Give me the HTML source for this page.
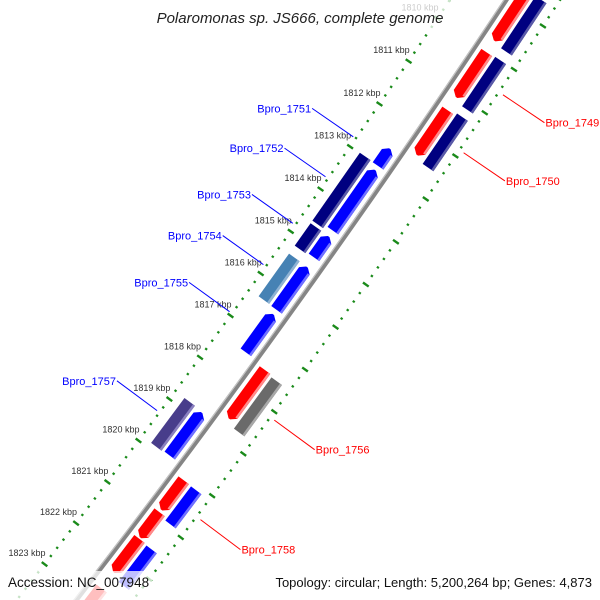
<!DOCTYPE html>
<html><head><meta charset="utf-8"><style>
html,body{margin:0;padding:0;background:#fff;overflow:hidden;}
svg{display:block;font-family:"Liberation Sans",sans-serif;}
</style></head><body>
<svg id="map" width="600" height="600" viewBox="0 0 600 600" xmlns="http://www.w3.org/2000/svg" overflow="hidden">
<g id="rings"></g>
<g id="backbone"></g>
<g id="features"></g>
<g id="labels"></g>
<rect x="150" y="0" width="300" height="32" fill="#fff" opacity="0.75"/>
<text x="300" y="23" text-anchor="middle" font-size="15" font-style="italic" fill="#222">Polaromonas sp. JS666, complete genome</text>
<rect x="0" y="571" width="152" height="29" fill="#fff" opacity="0.75"/>
<rect x="255" y="571" width="345" height="29" fill="#fff" opacity="0.75"/>
<text x="8" y="587" font-size="13.5" fill="#111">Accession: NC_007948</text>
<text x="592" y="587" text-anchor="end" font-size="13" fill="#111">Topology: circular; Length: 5,200,264 bp; Genes: 4,873</text>
</svg>
<script>
// ---- data ----
const majorTicks = [1809,1810,1811,1812,1813,1814,1815,1816,1817,1818,1819,1820,1821,1822,1823];
const tickLabels = ["1809 kbp","1810 kbp","1811 kbp","1812 kbp","1813 kbp","1814 kbp","1815 kbp","1816 kbp","1817 kbp","1818 kbp","1819 kbp","1820 kbp","1821 kbp","1822 kbp","1823 kbp"];
const featStart = [1812.6,1813.1,1814.66,1815.38,1816.5,1818.84, 1812.99,1814.65,1815.37,1818.81, 1808.6,1810.02,1811.36,1817.46,1820.09,1820.86,1821.5,1822.7,1823.65, 1808.6,1810.0,1811.31,1817.5,1820.1,1821.52];
const featEnd   = [1813.0,1814.52,1815.15,1816.39,1817.4,1819.87, 1814.59,1815.18,1816.38,1819.89, 1809.75,1811.06,1812.4,1818.62,1820.8,1821.47,1822.31,1823.6,1824.5, 1809.8,1811.14,1812.48,1818.72,1820.92,1822.4];
const featLane  = [-1,-1,-1,-1,-1,-1, -2,-2,-2,-2, 1,1,1,1,1,1,1,1,1, 2,2,2,2,2,2];
const featDir   = [-1,-1,-1,-1,-1,-1, 0,0,0,0, 1,1,1,1,1,1,1,1,1, 0,0,0,0,0,0];
const featColor = ["blue","blue","blue","blue","blue","blue","navy","navy","steel","purple","red","red","red","red","red","red","red","red","red","navy","navy","navy","gray","blue","blue"];
const labelNames = ["Bpro_1751","Bpro_1752","Bpro_1753","Bpro_1754","Bpro_1755","Bpro_1757","Bpro_1749","Bpro_1750","Bpro_1756","Bpro_1758"];
const labelKbp   = [1812.81,1813.75,1814.85,1815.83,1816.95,1819.32,1810.52,1811.86,1818.13,1820.5];
const labelSide  = [-1,-1,-1,-1,-1,-1,1,1,1,1];

// ---- geometry ----
const NS="http://www.w3.org/2000/svg";
const R=10000, nx=0.813, ny=0.582, Ox=297.7, Oy=300, k0=1816.0, pxPerKbp=52;
const Cx=Ox-R*nx, Cy=Oy-R*ny, phi0=Math.atan2(ny,nx);
function P(k,v){const f=phi0+(k-k0)*pxPerKbp/R, r=R+v;return [Cx+r*Math.cos(f),Cy+r*Math.sin(f)];}
function pts(a){return a.map(p=>p[0].toFixed(2)+","+p[1].toFixed(2)).join(" ");}
const laneV={"-2":-29,"-1":-13,"1":13,"2":29}, W=13, head=0.09;
const pal={red:["#ff0000","#ff8a8a"],blue:["#0000ff","#7070ff"],navy:["#000080","#5a5aa8"],steel:["#4682b4","#8fb3d4"],purple:["#483d8b","#8a80c0"],gray:["#6a6a6a","#a8a8a8"]};
const ringV=[-47,45];
const ringFrom=1807, ringTo=1825;

const gR=document.getElementById('rings');
ringV.forEach((rv,ri)=>{
  for(let t=ringFrom*5;t<=ringTo*5;t++){
    if(t%5===0) continue;
    const k=t/5;
    const a=P(k,rv-1.2),b=P(k,rv+1.2);
    const l=document.createElementNS(NS,'line');
    
    
    l.setAttribute('x1',a[0]);l.setAttribute('y1',a[1]);l.setAttribute('x2',b[0]);l.setAttribute('y2',b[1]);
    l.setAttribute('stroke','#1a8a1a');l.setAttribute('stroke-width','2.2');
    gR.appendChild(l);
  }
  majorTicks.forEach((k,i)=>{
    const a=P(k,rv-3.5),b=P(k,rv+3.5);
    const l=document.createElementNS(NS,'line');
    
    
    l.setAttribute('x1',a[0]);l.setAttribute('y1',a[1]);l.setAttribute('x2',b[0]);l.setAttribute('y2',b[1]);
    l.setAttribute('stroke','#1a8a1a');l.setAttribute('stroke-width','2.4');
    gR.appendChild(l);
    if(ri===0){
      const p=P(k,rv);
      const tx=document.createElementNS(NS,'text');
      
      
      tx.setAttribute('x',p[0]+1);tx.setAttribute('y',p[1]-8);
      tx.setAttribute('text-anchor','end');tx.setAttribute('font-size','9');tx.setAttribute('fill','#333');
      tx.textContent=tickLabels[i];
      gR.appendChild(tx);
    }
  });
});

const gB=document.getElementById('backbone');
const bpts=[];for(let k=1804;k<=1827;k+=0.5)bpts.push(P(k,0));
const bl=document.createElementNS(NS,'polyline');


bl.setAttribute('points',pts(bpts));bl.setAttribute('fill','none');bl.setAttribute('stroke','#858585');bl.setAttribute('stroke-width','4.8');
gB.appendChild(bl);
const bpts2=[];for(let k=1804;k<=1827;k+=0.5)bpts2.push(P(k,-1.8));
const bl2=document.createElementNS(NS,'polyline');


bl2.setAttribute('points',pts(bpts2));bl2.setAttribute('fill','none');bl2.setAttribute('stroke','#c4c4c4');bl2.setAttribute('stroke-width','1.2');
gB.appendChild(bl2);

const gF=document.getElementById('features');
featStart.forEach((s,i)=>{
  const e=featEnd[i], v=laneV[featLane[i]], v1=v-W/2, v2=v+W/2, d=featDir[i];
  let poly;
  if(d>0) poly=[P(s,v1),P(e-head,v1),P(e,v-1),P(e,v+1),P(e-head,v2),P(s,v2)];
  else if(d<0) poly=[P(s,v-1),P(s+head,v1),P(e,v1),P(e,v2),P(s+head,v2),P(s,v+1)];
  else poly=[P(s,v1),P(e,v1),P(e,v2),P(s,v2)];
  const c=pal[featColor[i]];
  const pg=document.createElementNS(NS,'polygon');
  
  
  pg.setAttribute('points',pts(poly));pg.setAttribute('fill',c[0]);
  gF.appendChild(pg);
  const hs=d<0?s+head:s, he=d>0?e-head:e;
  const hl=document.createElementNS(NS,'polygon');
  
  
  hl.setAttribute('points',pts([P(hs,v2-2.5),P(he,v2-2.5),P(he,v2),P(hs,v2)]));hl.setAttribute('fill',c[1]);
  gF.appendChild(hl);
});

const gL=document.getElementById('labels');
labelNames.forEach((n,i)=>{
  const sd=labelSide[i], k=labelKbp[i];
  const a=P(k,sd*50), b=P(k,sd*100);
  const col=sd<0?"#0000ff":"#ff0000";
  const l=document.createElementNS(NS,'line');
  
  
  l.setAttribute('x1',a[0]);l.setAttribute('y1',a[1]);l.setAttribute('x2',b[0]);l.setAttribute('y2',b[1]);
  l.setAttribute('stroke',col);l.setAttribute('stroke-width','1');
  gL.appendChild(l);
  const t=document.createElementNS(NS,'text');
  
  
  t.setAttribute('x',sd<0?b[0]-1:b[0]+1);t.setAttribute('y',b[1]+4);
  t.setAttribute('text-anchor',sd<0?'end':'start');t.setAttribute('font-size','11');t.setAttribute('fill',col);
  t.textContent=n;
  gL.appendChild(t);
});
</script>
</body></html>
